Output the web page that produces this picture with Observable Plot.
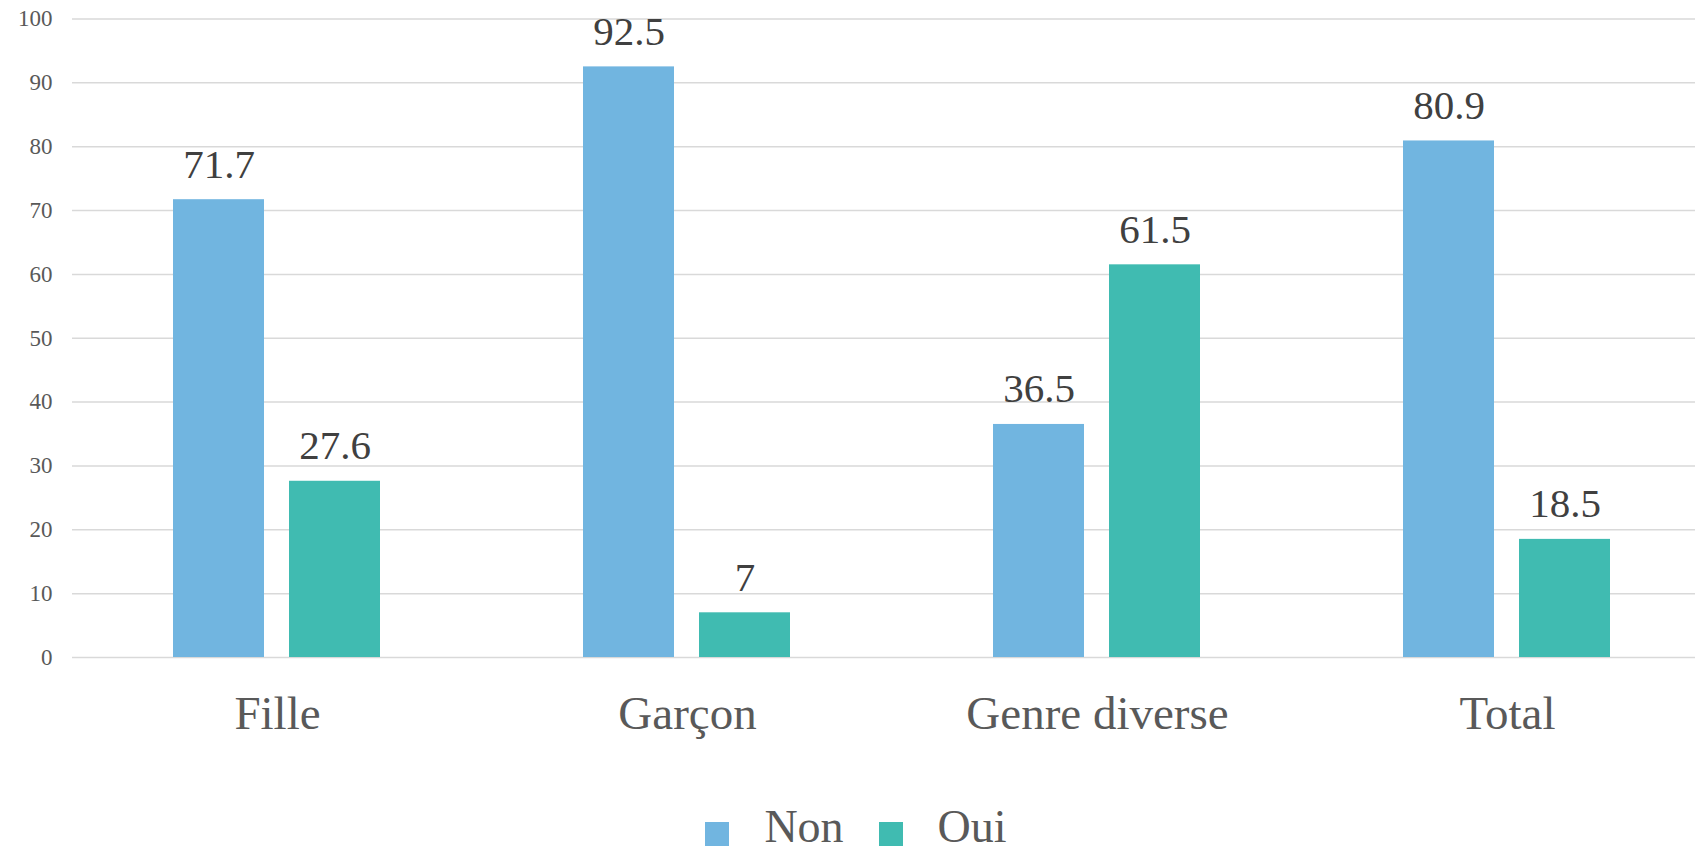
<!DOCTYPE html>
<html>
<head>
<meta charset="utf-8">
<script src="https://cdn.jsdelivr.net/npm/d3@7"></script>
<script src="https://cdn.jsdelivr.net/npm/@observablehq/plot@0.6"></script>
<style>
  html, body { margin: 0; padding: 0; background: #fff; overflow: hidden; }
  #wrap { width: 1712px; font-family: 'Liberation Serif', 'Times New Roman', serif; }
  #wrap svg, #wrap svg text { font-family: 'Liberation Serif', 'Times New Roman', serif !important; }
  #legend { width: 1712px; height: 50px; padding-top: 3.5px; box-sizing: border-box; display: flex; justify-content: center; align-items: flex-start; color: #595959; font-size: 46px; line-height: 46px; }
  .sw { width: 24px; height: 24px; display: inline-block; margin-right: 35px; position: relative; top: 7.5px; }
  .item { display: flex; align-items: center; height: 46px; }
  .item + .item { margin-left: 35px; }
</style>
</head>
<body>
<div id="wrap"></div>
<script>
const categories = ["Fille", "Garçon", "Genre diverse", "Total"];
const series = ["Non", "Oui"];
const nonValues = [71.7, 92.5, 36.5, 80.9];
const ouiValues = [27.6, 7, 61.5, 18.5];
const yTicks = [0, 10, 20, 30, 40, 50, 60, 70, 80, 90, 100];
const colors = ["#71b5e0", "#40bbb1"];

const data = categories.flatMap((c, i) => [
  {cat: c, serie: "Non", value: nonValues[i]},
  {cat: c, serie: "Oui", value: ouiValues[i]}
]);

const chart = Plot.plot({
  width: 1712,
  height: 800,
  marginLeft: 72,
  marginRight: 0,
  marginTop: 18.5,
  marginBottom: 143,
  style: {fontFamily: "'Liberation Serif', 'Times New Roman', serif", background: "white"},
  fx: {domain: categories, padding: 0, label: null},
  x: {domain: series, paddingInner: 0.2137, paddingOuter: 0.859, axis: null},
  y: {domain: [0, 100], label: null},
  color: {domain: series, range: colors},
  marks: [
    Plot.gridY(yTicks, {stroke: "#d9d9d9", strokeOpacity: 1, strokeWidth: 1.5}),
    Plot.barY(data, {fx: "cat", x: "serie", y: "value", fill: "serie"}),
    Plot.text(data, {fx: "cat", x: "serie", y: "value", text: d => String(d.value), lineAnchor: "bottom", dy: -22, fontSize: 41, fill: "#404040"}),
    Plot.axisY(yTicks, {tickSize: 0, tickPadding: 20, fontSize: 23, fill: "#595959", label: null}),
    Plot.axisFx({tickSize: 0, tickPadding: 38, fontSize: 47, fill: "#595959", label: null, anchor: "bottom"})
  ]
});
document.getElementById("wrap").appendChild(chart);

const legend = document.createElement("div");
legend.id = "legend";
series.forEach((s, i) => {
  const item = document.createElement("div");
  item.className = "item";
  const sw = document.createElement("span");
  sw.className = "sw";
  sw.style.background = colors[i];
  const t = document.createElement("span");
  t.textContent = s;
  item.appendChild(sw);
  item.appendChild(t);
  legend.appendChild(item);
});
document.getElementById("wrap").appendChild(legend);
</script>
</body>
</html>
